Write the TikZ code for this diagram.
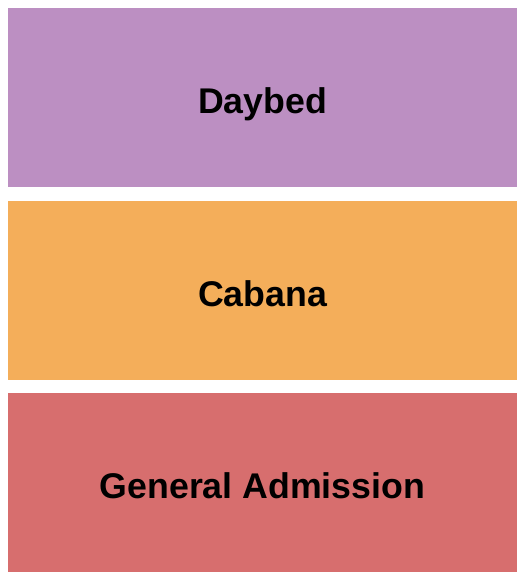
\documentclass[tikz,border=0pt]{standalone}
\usepackage{fontspec}
\setmainfont{Liberation Sans}
\definecolor{daybedcol}{HTML}{BC8FC2}
\definecolor{cabanacol}{HTML}{F4AE5A}
\definecolor{gacol}{HTML}{D76E6E}
\begin{document}
\begin{tikzpicture}[x=1pt,y=-1pt,
    section/.style={minimum width=509pt,minimum height=179pt,inner sep=0pt,text height=32.5pt,text depth=0pt,font=\fontsize{35.7}{40}\selectfont\bfseries}]
      \useasboundingbox (0,0) rectangle (525,580);
      \node[section,fill=daybedcol] (daybed) at (262.5,97.5) {Daybed};
      \node[section,fill=cabanacol] (cabana) at (262.5,290.5) {Cabana};
      \node[section,fill=gacol] (ga) at (262.5,482.5) {General Admission};
    \end{tikzpicture}
\end{document}
